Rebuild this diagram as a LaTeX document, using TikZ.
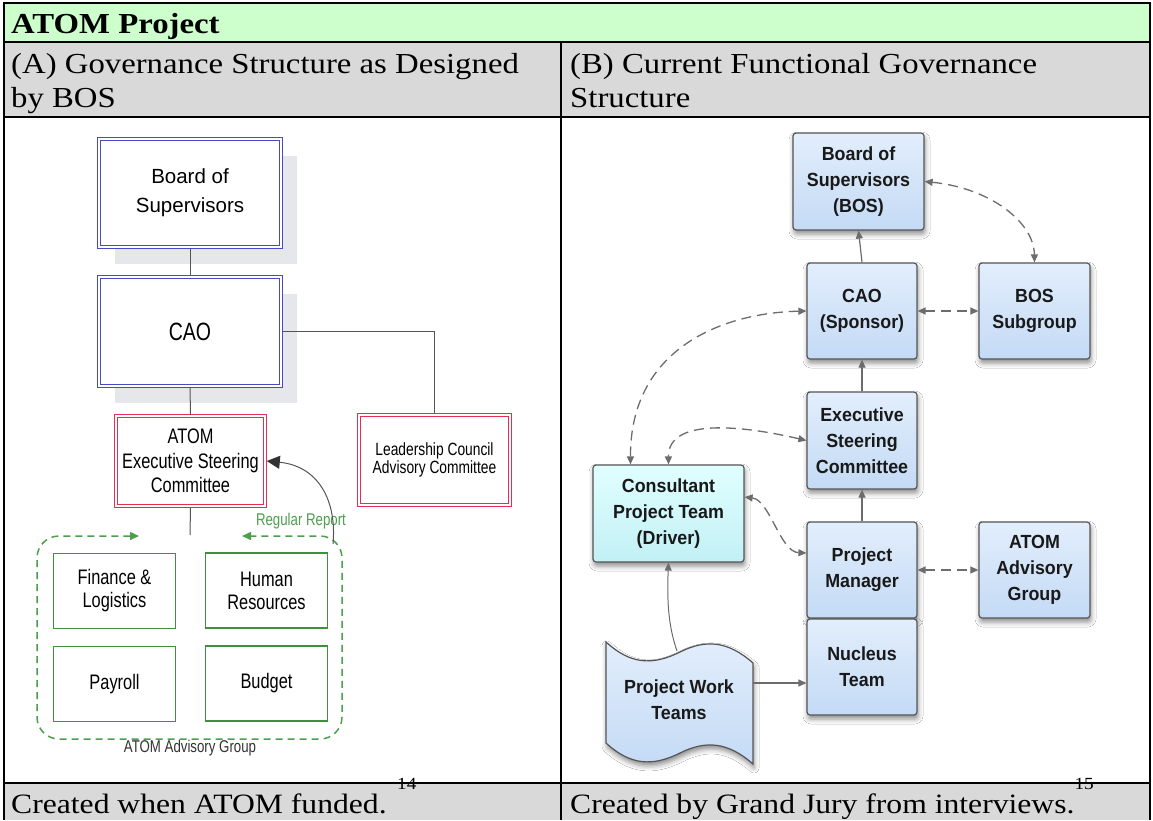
\documentclass[tikz,border=0pt]{standalone}
\usepackage{fontspec}
\setmainfont{Liberation Serif}
\newfontfamily\tnr{Liberation Serif}[FakeStretch=1.13]
\newfontfamily\plainsans{Liberation Sans}
\newfontfamily\narrowsans{Liberation Sans}[FakeStretch=0.78]
\newfontfamily\boldsans{Liberation Sans}[FakeStretch=0.94]
\usetikzlibrary{arrows.meta,shadows,shadows.blur,calc}

\definecolor{hdrgreen}{HTML}{CCFFCC}
\definecolor{cellgray}{HTML}{D9D9D9}
\definecolor{bosblue}{HTML}{4A4AC4}
\definecolor{escred}{HTML}{E42F50}
\definecolor{grpgreen}{HTML}{3F8F3F}
\definecolor{dashgreen}{HTML}{4E9E4E}
\definecolor{lineclr}{HTML}{555555}
\definecolor{shadowgray}{HTML}{E5E7EB}
\definecolor{boxtop}{HTML}{E2EEFC}
\definecolor{boxbot}{HTML}{C4DAF5}
\definecolor{cyantop}{HTML}{E0FFFF}
\definecolor{cyanbot}{HTML}{C2F0F5}
\definecolor{boxedge}{HTML}{555555}
\definecolor{connclr}{HTML}{6C6C6C}

\tikzset{
  rule/.style={line width=2pt, black},
  celltext/.style={anchor=base west, inner sep=0pt, font=\tnr\fontsize{29}{35}\selectfont},
  foottext/.style={anchor=base west, inner sep=0pt, font=\tnr\fontsize{28}{33}\selectfont},
  bluebox/.style={draw=bosblue, double=white, double distance=2pt, line width=1pt,
    fill=white, minimum width=182pt, inner sep=0pt, outer sep=2pt, align=center,
    general shadow={fill=shadowgray, shadow xshift=16pt, shadow yshift=-17pt}},
  redbox/.style={draw=escred, double=white, double distance=2pt, line width=1.2pt,
    fill=white, minimum height=89.6pt, inner sep=0pt, outer sep=2pt, align=center,
    font=\narrowsans\fontsize{21}{24.5}\selectfont},
  greenbox/.style={draw=grpgreen, line width=1.5pt, minimum width=122pt, minimum height=75pt,
    inner sep=0pt, align=center, font=\narrowsans\fontsize{21}{23}\selectfont},
  lline/.style={draw=lineclr, line width=1pt},
  rbox/.style={draw=boxedge, line width=1.2pt, rounded corners=3pt,
    top color=boxtop, bottom color=boxbot, minimum width=110pt, minimum height=96pt,
    inner sep=2pt, align=center, text=black!90,
    font=\boldsans\bfseries\fontsize{19}{26}\selectfont,
    blur shadow={shadow xshift=1pt, shadow yshift=-4pt, shadow blur radius=5pt, shadow opacity=45}},
  conn/.style={draw=connclr, line width=1.2pt, -{Triangle[length=8pt,width=7pt]}},
  dconn/.style={draw=connclr, line width=1.3pt, dash pattern=on 10pt off 6pt,
    {Triangle[length=8pt,width=7pt]}-{Triangle[length=8pt,width=7pt]}}
}

\begin{document}
\begin{tikzpicture}[x=1pt, y=-1pt]
\useasboundingbox (0,0) rectangle (1153,820);

% ---------- table frame ----------
\fill[white] (0,0) rectangle (1153,820);
\fill[hdrgreen] (4,3) rectangle (1150,42);
\fill[cellgray] (4,42) rectangle (1150,117);
\fill[cellgray] (4,783) rectangle (1150,820);
\draw[rule] (4,3) -- (1150,3);
\draw[rule] (4,42) -- (1150,42);
\draw[rule] (4,117) -- (1150,117);
\draw[rule] (4,783) -- (1150,783);
\draw[rule] (4,2) -- (4,820);
\draw[rule] (1150,2) -- (1150,820);
\draw[rule] (561,42) -- (561,820);

\node[celltext, font=\tnr\bfseries\fontsize{29}{35}\selectfont] (tHead) at (11,33) {ATOM Project};
\node[celltext] (tA1) at (11,73) {(A) Governance Structure as Designed};
\node[celltext] (tA2) at (11,107) {by BOS};
\node[celltext] (tB1) at (570,73) {(B) Current Functional Governance};
\node[celltext] (tB2) at (570,107) {Structure};
\node[foottext] (tFootA) at (11,813) {Created when ATOM funded. \raisebox{24pt}{\fontsize{17}{17}\selectfont 14}};
\node[foottext] (tFootB) at (570,813) {Created by Grand Jury from interviews.\raisebox{24pt}{\fontsize{17}{17}\selectfont 15}};

% ---------- (A) structure as designed ----------
\node[bluebox, minimum height=108pt, font=\plainsans\fontsize{20.5}{29}\selectfont] (lbos) at (190,193) {Board of\\Supervisors};
\node[bluebox, minimum height=109pt, font=\narrowsans\fontsize{25}{28}\selectfont] (lcao) at (190,331.5) {CAO};
\node[redbox, minimum width=148.6pt] (lesc) at (190.5,461) {ATOM\\Executive Steering\\Committee};
\node[redbox, minimum width=150.6pt, font=\narrowsans\fontsize{17.7}{18.5}\selectfont] (llead) at (434.5,460) {Leadership Council\\Advisory Committee};

\node[greenbox] (lfin) at (114.5,591) {Finance \&\\Logistics};
\node[greenbox] (lhr) at (266.5,590.5) {Human\\Resources};
\node[greenbox] (lpay) at (114.5,684) {Payroll};
\node[greenbox] (lbud) at (266.5,683.5) {Budget};

\node[font=\narrowsans\fontsize{17}{18}\selectfont, text=black!80, inner sep=0pt] (lgrp) at (190,748) {ATOM Advisory Group};
\node[font=\narrowsans\fontsize{17}{18}\selectfont, text=dashgreen, inner sep=0pt] (lrep) at (301,521) {Regular Report};

\coordinate (grpTop) at (190,535);
\coordinate (grpL) at (139,536);
\coordinate (grpR) at (242,536);
\coordinate (repStart) at (333,544);

\draw[lline] (lbos.south) -- (lcao.north);
\draw[lline] (lcao.east) -| (llead.north);
\draw[lline] (lcao.south) -- (lesc.north);
\draw[lline] (lesc.south) -- (grpTop);

% dashed group outline, its top edge split into two arrows
\draw[dashgreen, line width=1.5pt, dash pattern=on 7pt off 5pt, rounded corners=22pt,
  {Triangle[length=9pt,width=8pt]}-{Triangle[length=9pt,width=8pt]}]
  (grpL) -- (37,536) -- (37,739) -- (342,739) -- (342,536) -- (grpR);

% regular report arrow
\draw[draw=lineclr, line width=1pt, -{Triangle[length=13pt,width=13pt,color=black!80]}]
  (repStart) .. controls (337,500) and (318,466) .. (lesc.east);

% ---------- (B) current functional structure ----------
\node[rbox, minimum width=131pt, minimum height=97pt] (rBOS) at (858.5,181.5) {Board of\\Supervisors\\(BOS)};
\node[rbox] (rCAO) at (862,311) {CAO\\(Sponsor)};
\node[rbox, minimum width=111pt] (rSub) at (1034.5,311) {BOS\\Subgroup};
\node[rbox, minimum height=97pt] (rESC) at (862,440.5) {Executive\\Steering\\Committee};
\node[rbox, minimum width=151pt, minimum height=97pt, top color=cyantop, bottom color=cyanbot] (rCons) at (668.5,513.5) {Consultant\\Project Team\\(Driver)};
\node[rbox] (rPM) at (862,570) {Project\\Manager};
\node[rbox, minimum width=111pt] (rAAG) at (1034.5,570) {ATOM\\Advisory\\Group};
\node[rbox] (rNuc) at (862,667) {Nucleus\\Team};

% wavy document shape for the work teams
\path[draw=boxedge, line width=1.2pt, top color=boxtop, bottom color=boxbot,
  blur shadow={shadow xshift=1pt, shadow yshift=-4pt, shadow blur radius=5pt, shadow opacity=45}]
  (606,642) .. controls (630,664) and (652,666) .. (680,652)
  .. controls (706,639) and (728,641) .. (753,663) -- (753,764)
  .. controls (728,742) and (706,740) .. (680,753)
  .. controls (652,767) and (630,765) .. (606,743) -- cycle;
\node[font=\boldsans\bfseries\fontsize{19}{26}\selectfont, text=black!90, align=center] (rPWT) at (679,700) {Project Work\\Teams};
\coordinate (pwtTop) at (677,651);
\coordinate (pwtEast) at (753,683);

\coordinate (consA) at ([xshift=-38pt]rCons.north);
\coordinate (consE) at ([yshift=16.5pt]rCons.east);
\coordinate (pmW) at ([yshift=17pt]rPM.west);

\draw[conn] (rCAO.north) -- (rBOS.south);
\draw[conn] (rESC.north) -- (rCAO.south);
\draw[conn] (rPM.north) -- (rESC.south);
\draw[dconn] (rBOS.east) .. controls (990,188) and (1034,222) .. (rSub.north);
\draw[dconn] (rCAO.east) -- (rSub.west);
\draw[dconn] (rCAO.west) .. controls (720,313) and (630,350) .. (consA);
\draw[dconn] (rESC.west) .. controls (740,425) and (668,418) .. (rCons.north);
\draw[dconn] (consE) .. controls (770,500) and (780,552) .. (pmW);
\draw[dconn] (rPM.east) -- (rAAG.west);
\draw[conn, line width=1pt] (pwtTop) .. controls (668,625) and (667,600) .. (rCons.south);
\draw[conn] (pwtEast) -- (pwtEast -| rNuc.west);
\end{tikzpicture}
\end{document}
